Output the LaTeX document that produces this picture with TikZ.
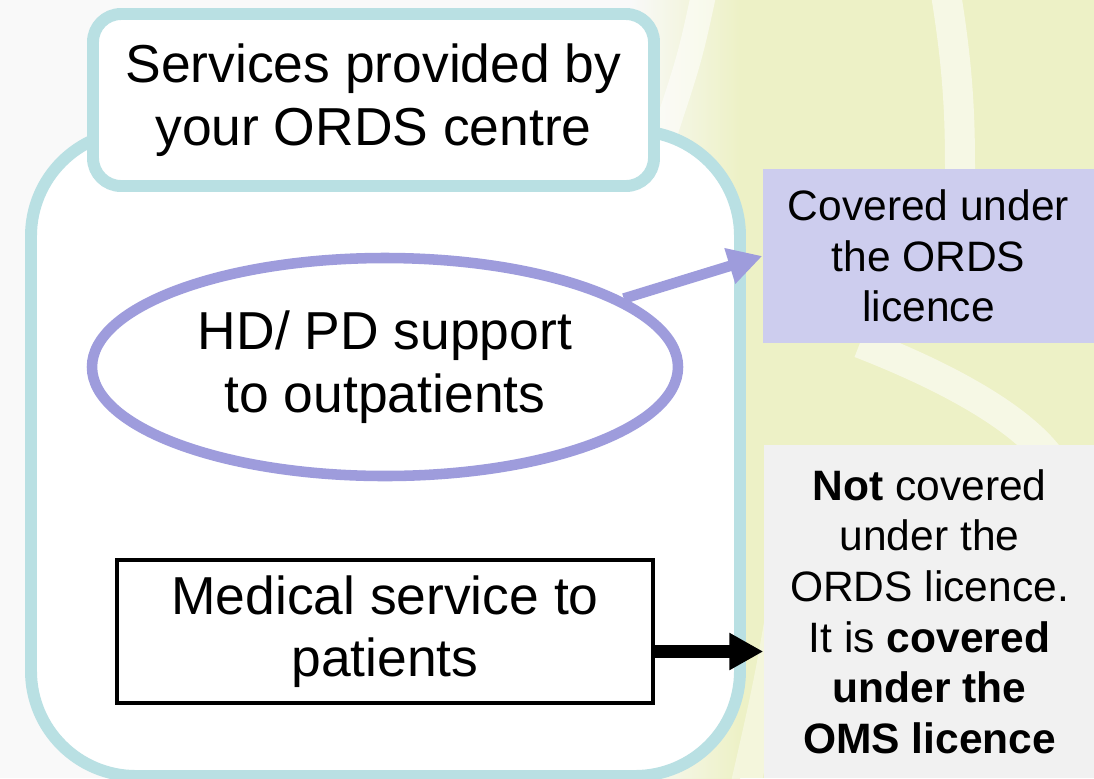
\documentclass[tikz,border=0pt]{standalone}
\usepackage{fontspec}
\setmainfont{Liberation Sans}
\usepackage{tikz}
\usetikzlibrary{shapes.geometric,arrows.meta}

\definecolor{bggray}{HTML}{F9F9F9}
\definecolor{bggreen}{HTML}{EDF1C6}
\definecolor{rimteal}{HTML}{B9E0E3}
\definecolor{ringpurple}{HTML}{9E9CDC}
\definecolor{lavender}{HTML}{CDCDEE}
\definecolor{boxgray}{HTML}{F1F1F1}

\newcommand{\txtbig}{\fontsize{15.2}{17.8}\selectfont}
\newcommand{\txtsmall}{\fontsize{12.1}{14.4}\selectfont}

\begin{document}
\begin{tikzpicture}[>={Triangle[length=0.34cm,width=0.35cm]},
        rim/.style={draw=rimteal, line width=3.4pt, fill=white},
        sidebox/.style={align=center, inner sep=0pt, font=\txtsmall}]
            \useasboundingbox (0,0) rectangle (10.94,7.78);
            %background, pale green on the right with white swooshes
            \fill[bggray] (0,0) rectangle (10.94,7.78);
            \shade[left color=bggray, right color=bggreen] (6.3,0) rectangle (7.4,7.78);
            \fill[bggreen] (7.4,0) rectangle (10.94,7.78);
            \draw[white, opacity=.55, line width=.25cm] (7.05,7.9) .. controls (6.9,7.2) .. (6.6,6.3);
            \draw[white, opacity=.55, line width=.3cm] (9.45,7.9) .. controls (9.6,7.0) and (9.6,6.5) .. (9.6,6.0);
            \draw[white, opacity=.55, line width=.3cm] (8.6,4.35) .. controls (9.5,4.0) and (10.2,3.6) .. (10.5,3.2);
            \draw[white, opacity=.4, line width=.3cm] (7.9,2.2) .. controls (7.7,1.0) .. (7.45,-0.1);

            %outer frame
            \draw[rim, rounded corners=1.05cm] (0.31,0.02) rectangle (7.40,6.47);
            \node[rim, rounded corners=.28cm, minimum width=5.61cm, minimum height=1.72cm,
                align=center, font=\txtbig] (title) at (3.735,6.78) {Services provided by\\your ORDS centre};

            \node[ellipse, draw=ringpurple, line width=3pt, fill=white, minimum width=5.86cm,
                minimum height=2.18cm, inner sep=0pt, align=center, font=\txtbig] (hdpd) at (3.85,4.11)
                {HD/ PD support\\to outpatients};
            \node[draw, line width=1.4pt, fill=white, minimum width=5.36cm, minimum height=1.43cm,
                align=center, font=\txtbig] (medical) at (3.85,1.465) {Medical service to\\patients};

            \node[sidebox, fill=lavender, minimum width=3.31cm, minimum height=1.74cm] (covered)
                at (9.285,5.22) {Covered under\\the ORDS\\licence};
            \node[sidebox, fill=boxgray, minimum width=3.31cm, minimum height=3.33cm] (notcov)
                at (9.295,1.665) {\textbf{Not} covered\\under the\\ORDS licence.\\It is \textbf{covered}\\\textbf{under the}\\\textbf{OMS licence}};

            %arrows
            \draw[->, ringpurple, line width=3pt] (hdpd.16) -- (covered.west);
            \draw[->, line width=3.6pt] ([yshift=-.2cm]medical.east) -- ([yshift=-.2cm]medical.east -| notcov.west);
        \end{tikzpicture}
\end{document}
